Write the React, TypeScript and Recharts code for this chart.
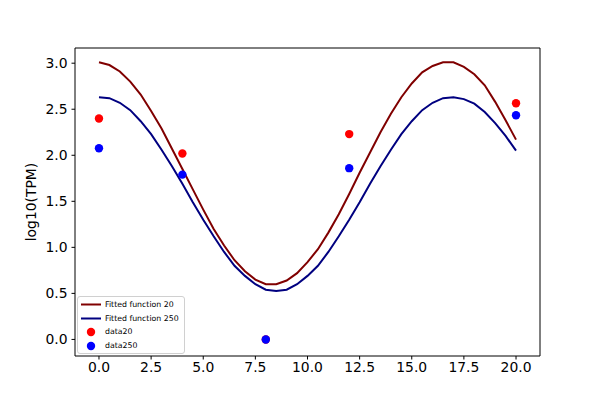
import { ComposedChart, Line, Scatter, XAxis, YAxis, ReferenceLine } from "recharts";

// fitted curves, every 0.5 on x
const fitX = [
  0, 0.5, 1, 1.5, 2, 2.5, 3, 3.5, 4, 4.5, 5, 5.5, 6, 6.5, 7, 7.5, 8, 8.5, 9, 9.5, 10,
  10.5, 11, 11.5, 12, 12.5, 13, 13.5, 14, 14.5, 15, 15.5, 16, 16.5, 17, 17.5, 18, 18.5, 19, 19.5, 20,
];
const fit20 = [
  3.01, 2.98, 2.91, 2.8, 2.66, 2.48, 2.29, 2.07, 1.85, 1.63, 1.41, 1.2, 1.02, 0.86, 0.74, 0.65, 0.6, 0.6, 0.64,
  0.72, 0.84, 0.98, 1.16, 1.36, 1.58, 1.81, 2.03, 2.25, 2.45, 2.63, 2.78, 2.9, 2.97, 3.01, 3.01, 2.96, 2.88,
  2.76, 2.58, 2.38, 2.17,
];
const fit250 = [
  2.63, 2.62, 2.57, 2.49, 2.37, 2.23, 2.06, 1.88, 1.69, 1.49, 1.3, 1.12, 0.95, 0.8, 0.69, 0.6, 0.54, 0.525, 0.54,
  0.6, 0.69, 0.8, 0.95, 1.12, 1.3, 1.49, 1.69, 1.88, 2.06, 2.23, 2.37, 2.49, 2.57, 2.62, 2.63, 2.61, 2.56,
  2.47, 2.35, 2.21, 2.05,
];

// measured points
const dataX = [0, 4, 8, 12, 20];
const data20 = [2.4, 2.02, 0, 2.23, 2.565];
const data250 = [2.076, 1.79, 0, 1.86, 2.435];

const xTicks = [0, 2.5, 5, 7.5, 10, 12.5, 15, 17.5, 20];
const yTicks = [0, 0.5, 1, 1.5, 2, 2.5, 3];

const fitRows = fitX.map((x, i) => ({ x, f20: fit20[i], f250: fit250[i] }));
const pts20 = dataX.map((x, i) => ({ x, y: data20[i] }));
const pts250 = dataX.map((x, i) => ({ x, y: data250[i] }));

const xDom: [number, number] = [-1.15, 21.15];
const yDom: [number, number] = [-0.18, 3.165];

const font = "DejaVu Sans";
const tickStyle = { fill: "#000", fontSize: 13.9, fontFamily: font };

function dot(color: string) {
  return (p: any) => <circle cx={p.cx} cy={p.cy} r={4.2} fill={color} />;
}

function LegendBox() {
  const rows = [
    { kind: "line", color: "#800000", label: "Fitted function 20" },
    { kind: "line", color: "#000080", label: "Fitted function 250" },
    { kind: "dot", color: "#ff0000", label: "data20" },
    { kind: "dot", color: "#0000ff", label: "data250" },
  ];
  return (
    <div
      style={{
        position: "absolute",
        left: 77,
        top: 296,
        border: "1px solid #d0d0d0",
        borderRadius: 3,
        background: "rgba(255,255,255,0.8)",
        padding: "1px 5px 1px 2px",
        fontFamily: font,
        fontSize: 7.8,
        lineHeight: "13px",
        color: "#000",
      }}
    >
      {rows.map((r) => (
        <div key={r.label} style={{ display: "flex", alignItems: "center", height: 13.5 }}>
          <svg width={22} height={13}>
            {r.kind === "line" ? (
              <line x1={1} x2={21} y1={6.5} y2={6.5} stroke={r.color} strokeWidth={2} />
            ) : (
              <circle cx={11} cy={7} r={4.2} fill={r.color} />
            )}
          </svg>
          <span style={{ marginLeft: 3, whiteSpace: "nowrap" }}>{r.label}</span>
        </div>
      ))}
    </div>
  );
}

export default function App() {
  return (
    <div style={{ position: "absolute", left: 0, top: 0, width: 600, height: 400, background: "#fff" }}>
      <ComposedChart width={600} height={400} data={fitRows} margin={{ top: 48, right: 60, bottom: 14, left: 20 }}>
        <XAxis
          dataKey="x"
          type="number"
          domain={xDom}
          ticks={xTicks}
          tickFormatter={(v) => v.toFixed(1)}
          allowDataOverflow
          height={30}
          tickSize={3.5}
          tickMargin={3}
          tick={tickStyle}
          stroke="#000"
        />
        <YAxis
          type="number"
          domain={yDom}
          ticks={yTicks}
          tickFormatter={(v) => v.toFixed(1)}
          allowDataOverflow
          width={55}
          tickSize={3.5}
          tickMargin={4}
          tick={tickStyle}
          stroke="#000"
          label={{
            position: "center",
            content: (p: any) => {
              const vb = p.viewBox;
              const cx = 31;
              const cy = vb.y + vb.height / 2;
              return (
                <text
                  x={cx}
                  y={cy}
                  transform={`rotate(-90 ${cx} ${cy})`}
                  textAnchor="middle"
                  dominantBaseline="central"
                  fontSize={13.9}
                  fontFamily={font}
                  fill="#000"
                >
                  log10(TPM)
                </text>
              );
            },
          }}
        />
        <ReferenceLine y={yDom[1]} stroke="#000" strokeWidth={1} />
        <ReferenceLine x={xDom[1]} stroke="#000" strokeWidth={1} />
        <Scatter data={pts20} dataKey="y" shape={dot("#ff0000")} isAnimationActive={false} />
        <Scatter data={pts250} dataKey="y" shape={dot("#0000ff")} isAnimationActive={false} />
        <Line type="linear" dataKey="f20" stroke="#800000" strokeWidth={2} dot={false} isAnimationActive={false} />
        <Line type="linear" dataKey="f250" stroke="#000080" strokeWidth={2} dot={false} isAnimationActive={false} />
      </ComposedChart>
      <LegendBox />
    </div>
  );
}
